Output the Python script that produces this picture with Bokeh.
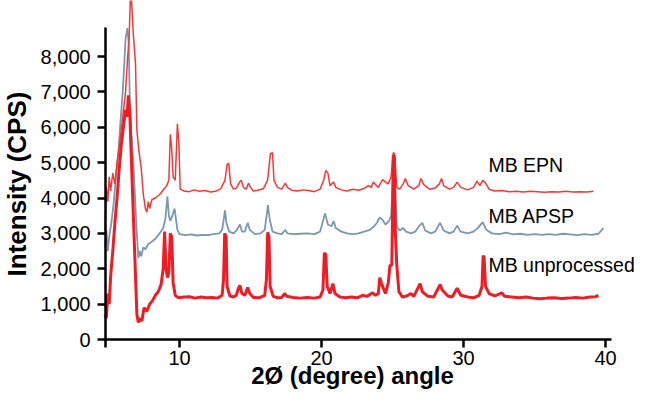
import math
from bokeh.plotting import figure
from bokeh.models import (ColumnDataSource, FixedTicker, NumeralTickFormatter, Label, Range1d,
                          LinearAxis)
from bokeh.embed import file_html
from bokeh.resources import INLINE

# ---------------- data ----------------
series_names = ["MB EPN", "MB APSP", "MB unprocessed"]

x_epn = [4.75, 4.85, 4.95, 5.05, 5.15, 5.3, 5.45, 5.6, 5.8, 6.0, 6.2, 6.35, 6.45, 6.55, 6.62,
         6.75, 6.9, 7.0, 7.15, 7.3, 7.45, 7.6, 7.7, 7.8, 7.9, 8.05, 8.3, 8.6, 8.9, 9.1,
         9.25, 9.35, 9.45, 9.55, 9.7, 9.85, 9.95, 10.05, 10.3, 10.7, 11.0, 11.4, 11.8, 12.2,
         12.6, 12.9, 13.2, 13.35, 13.46, 13.6, 13.8, 14.0, 14.23, 14.35, 14.5, 14.7, 14.85,
         15.0, 15.2, 15.5, 15.9, 16.2, 16.4, 16.55, 16.65, 16.9, 17.2, 17.45, 17.6, 17.9,
         18.3, 18.7, 19.1, 19.5, 19.9, 20.15, 20.3, 20.45, 20.6, 20.85, 21.0, 21.4, 21.8,
         22.2, 22.6, 23.0, 23.3, 23.5, 23.65, 23.8, 24.0, 24.3, 24.5, 24.7, 24.9, 25.05,
         25.15, 25.3, 25.5, 25.75, 25.9, 26.1, 26.5, 26.85, 27.0, 27.2, 27.6, 28.0, 28.3,
         28.45, 28.6, 29.0, 29.3, 29.55, 29.8, 30.3, 30.7, 30.95, 31.15, 31.35, 31.55, 31.8,
         32.2, 32.7, 33.2, 33.7, 34.2, 34.7, 35.2, 35.7, 36.2, 36.7, 37.2, 37.7, 38.2, 38.7,
         39.15]
y_epn = [3100, 4300, 3900, 4600, 4200, 4700, 4400, 5000, 5600, 6300, 7000, 8000, 8500, 9800, 9600,
         8600, 7800, 5900, 5300, 4860, 4100, 3700, 3600, 3900, 3700, 3950, 4000, 4100, 4250, 4350,
         4500, 5800, 5400, 4600, 4500, 6100, 5600, 4250, 4200, 4180, 4230, 4190, 4210, 4170,
         4200, 4260, 4500, 4950, 4980, 4400, 4250, 4280, 4450, 4500, 4300, 4250, 4420,
         4300, 4200, 4220, 4260, 4500, 5250, 5280, 4500, 4300, 4250, 4420, 4300, 4220,
         4200, 4230, 4210, 4180, 4250, 4500, 4780, 4700, 4350, 4450, 4300, 4230, 4200,
         4250, 4220, 4270, 4350, 4300, 4450, 4380, 4300, 4520, 4450, 4400, 4600, 5280,
         5250, 4300, 4250, 4400, 4550, 4350, 4250, 4350, 4550, 4380, 4250, 4280, 4400,
         4550, 4350, 4250, 4300, 4450, 4300, 4230, 4300, 4480, 4350, 4500, 4420, 4250,
         4200, 4210, 4180, 4190, 4170, 4190, 4180, 4160, 4180, 4170, 4190, 4170, 4180, 4170,
         4190]

x_apsp = [4.75, 4.85, 4.95, 5.05, 5.2, 5.35, 5.5, 5.7, 5.85, 6.0, 6.1, 6.2, 6.33, 6.42, 6.5,
          6.6, 6.7, 6.8, 6.95, 7.1, 7.2, 7.3, 7.45, 7.6, 7.8, 8.0, 8.3, 8.6, 8.85, 9.0,
          9.15, 9.25, 9.35, 9.5, 9.65, 9.75, 9.85, 10.0, 10.4, 10.8, 11.2, 11.6, 12.0, 12.4,
          12.8, 13.0, 13.1, 13.2, 13.3, 13.5, 13.8, 14.05, 14.25, 14.4, 14.6, 14.8, 14.95,
          15.3, 15.7, 16.0, 16.15, 16.22, 16.35, 16.55, 16.9, 17.2, 17.45, 17.6, 18.0, 18.5,
          19.0, 19.5, 19.9, 20.1, 20.25, 20.45, 20.7, 20.85, 21.0, 21.4, 21.8, 22.2, 22.6,
          23.0, 23.4, 23.7, 23.9, 24.1, 24.3, 24.5, 24.75, 24.9, 25.0, 25.08, 25.18, 25.3,
          25.5, 25.75, 25.95, 26.3, 26.6, 26.9, 27.1, 27.3, 27.7, 28.0, 28.35, 28.6, 29.0,
          29.3, 29.55, 29.8, 30.3, 30.7, 31.0, 31.35, 31.6, 32.0, 32.5, 33.0, 33.5, 34.0,
          34.5, 35.0, 35.5, 36.0, 36.5, 37.0, 37.5, 38.0, 38.5, 39.0, 39.5, 39.85]
y_apsp = [2600, 3100, 2500, 2900, 3300, 3800, 4500, 5300, 6200, 7000, 7700, 8500, 8800, 8400, 6700,
          5900, 5300, 4600, 3300, 2300, 2500, 2350, 2600, 2550, 2700, 2750, 2850, 3000, 3150, 3400,
          4050, 3500, 3350, 3500, 3700, 3400, 3100, 2980, 2950, 2970, 2940, 2960, 2950, 2980,
          3000, 3100, 3350, 3650, 3300, 3050, 3000, 3100, 3250, 3050, 3050, 3300, 3100,
          2980, 3000, 3100, 3550, 3800, 3400, 3050, 3000, 2980, 3100, 3000, 2980, 2990,
          3000, 2980, 3050, 3350, 3560, 3250, 3200, 3350, 3150, 3050, 3000, 2980, 3000,
          3050, 3100, 3200, 3300, 3450, 3380, 3250, 3350, 3500, 4300, 5000, 4200, 3200,
          3080, 3150, 3050, 3000, 3050, 3220, 3300, 3080, 3000, 3050, 3300, 3080, 3000,
          3050, 3220, 3050, 3000, 3050, 3150, 3320, 3100, 3000, 2980, 3020, 2970, 2990,
          2960, 2980, 2960, 2980, 2960, 2990, 2970, 2950, 2980, 2960, 2990, 3150]

x_unp = [4.75, 4.85, 4.95, 5.05, 5.15, 5.3, 5.45, 5.6, 5.75, 5.9, 6.05, 6.2, 6.3, 6.4, 6.5,
         6.6, 6.75, 6.9, 7.0, 7.1, 7.2, 7.35, 7.5, 7.7, 7.9, 8.1, 8.3, 8.5, 8.7, 8.85,
         8.95, 9.05, 9.15, 9.25, 9.35, 9.45, 9.55, 9.7, 9.85, 10.0, 10.3, 10.7, 11.1, 11.5,
         11.9, 12.3, 12.7, 13.0, 13.1, 13.18, 13.28, 13.35, 13.55, 13.8, 14.0, 14.15, 14.25,
         14.4, 14.6, 14.8, 14.95, 15.2, 15.6, 16.0, 16.12, 16.21, 16.3, 16.38, 16.6, 16.9,
         17.2, 17.4, 17.55, 18.0, 18.5, 19.0, 19.5, 19.9, 20.1, 20.2, 20.3, 20.4, 20.6,
         20.8, 20.95, 21.3, 21.7, 22.1, 22.5, 22.9, 23.2, 23.6, 23.8, 24.0, 24.1, 24.25,
         24.5, 24.7, 24.82, 24.95, 25.0, 25.05, 25.12, 25.2, 25.3, 25.45, 25.7, 26.0, 26.3,
         26.5, 26.94, 27.1, 27.5, 27.9, 28.35, 28.5, 28.9, 29.2, 29.55, 29.8, 30.3, 30.7,
         31.1, 31.3, 31.38, 31.45, 31.55, 31.8, 32.2, 32.7, 32.9, 33.4, 33.9, 34.4, 34.9,
         35.4, 35.9, 36.4, 36.9, 37.4, 37.9, 38.4, 38.9, 39.3, 39.5]
y_unp = [700, 600, 1300, 1000, 1800, 2500, 3300, 4000, 4800, 5500, 6000, 6500, 6300, 6900, 6400,
         5200, 3500, 1800, 700, 480, 600, 520, 900, 800, 1000, 1100, 1250, 1350, 1550, 2000,
         3050, 2000, 1750, 1900, 3000, 2900, 1600, 1250, 1200, 1180, 1200, 1210, 1170, 1200,
         1180, 1190, 1170, 1250, 1700, 3000, 2900, 1500, 1230, 1200, 1250, 1450, 1530,
         1300, 1250, 1470, 1300, 1190, 1180, 1250, 1700, 3030, 2900, 1500, 1220, 1180,
         1190, 1300, 1220, 1190, 1170, 1190, 1170, 1200, 1400, 2450, 2400, 1500, 1300,
         1580, 1300, 1200, 1180, 1200, 1180, 1250, 1220, 1320, 1250, 1300, 1750, 1550,
         1300, 1600, 2100, 2100, 3500, 5200, 5150, 3000, 2100, 1350, 1200, 1230, 1300,
         1220, 1580, 1350, 1220, 1200, 1550, 1400, 1230, 1200, 1450, 1250, 1200, 1180,
         1250, 1500, 2370, 2300, 1500, 1300, 1230, 1320, 1220, 1200, 1180, 1200, 1170,
         1150, 1170, 1180, 1160, 1170, 1190, 1170, 1200, 1210, 1250]

y_ticks = [0, 1000, 2000, 3000, 4000, 5000, 6000, 7000, 8000]
x_ticks = [10, 20, 30, 40]
x_axis_start = 4.8
x_axis_end = 40.4
y_axis_top = 8820

# ---------------- figure ----------------
p = figure(width=638, height=389, output_backend="svg", toolbar_location=None,
           x_range=Range1d(-2.606, 42.32), y_range=Range1d(-1413, 9583),
           x_axis_location=None, y_axis_location=None,
           min_border_left=0, min_border_right=0, min_border_top=0, min_border_bottom=0)
p.outline_line_color = None
p.xgrid.visible = False
p.ygrid.visible = False
p.background_fill_color = "white"
p.border_fill_color = "white"

red = "#ee1c24"
blue = "#7b98ad"

p.line(x="x", y="y", source=ColumnDataSource(dict(x=x_apsp, y=y_apsp)),
       line_color=blue, line_width=1.8)
p.line(x="x", y="y", source=ColumnDataSource(dict(x=x_epn, y=y_epn)),
       line_color="#f03a3a", line_width=1.5)
p.line(x="x", y="y", source=ColumnDataSource(dict(x=x_unp, y=y_unp)),
       line_color=red, line_width=3)

xaxis = LinearAxis(fixed_location=0, ticker=FixedTicker(ticks=[x_axis_start] + x_ticks),
                   bounds=(x_axis_start, x_axis_end))
xaxis.major_label_overrides = {x_axis_start: ""}
yaxis = LinearAxis(fixed_location=x_axis_start, ticker=FixedTicker(ticks=y_ticks),
                   formatter=NumeralTickFormatter(format="0,0"), bounds=(0, y_axis_top))

for ax in (xaxis, yaxis):
    ax.axis_line_color = "black"
    ax.axis_line_width = 2.5
    ax.major_tick_line_color = "black"
    ax.major_tick_line_width = 2.5
    ax.major_tick_out = 8
    ax.major_tick_in = 0
    ax.minor_tick_line_color = None
    ax.major_label_text_font = "Liberation Sans"
    ax.major_label_text_font_size = "20px"
    ax.major_label_text_color = "black"
yaxis.major_label_standoff = 7
xaxis.major_label_standoff = 3

p.add_layout(xaxis, "below")
p.add_layout(yaxis, "left")

# axis titles
p.add_layout(Label(x=-1.41, y=4396, text="Intensity (CPS)", angle=math.pi / 2,
                   text_align="center", text_baseline="middle",
                   text_font="Liberation Sans", text_font_size="26px",
                   text_font_style="bold", text_color="black"))
p.add_layout(Label(x=22.18, y=-1018, text="2\u00d8 (degree) angle",
                   text_align="center", text_baseline="middle",
                   text_font="Liberation Sans", text_font_size="24px",
                   text_font_style="bold", text_color="black"))

# series labels
label_y = [4933, 3491, 2106]
for name, ly in zip(series_names, label_y):
    p.add_layout(Label(x=31.75, y=ly, text=name, text_align="left", text_baseline="middle",
                       text_font="Liberation Sans", text_font_size="19.5px",
                       text_color="black"))

open("out.html", "w").write(file_html(p, INLINE))
